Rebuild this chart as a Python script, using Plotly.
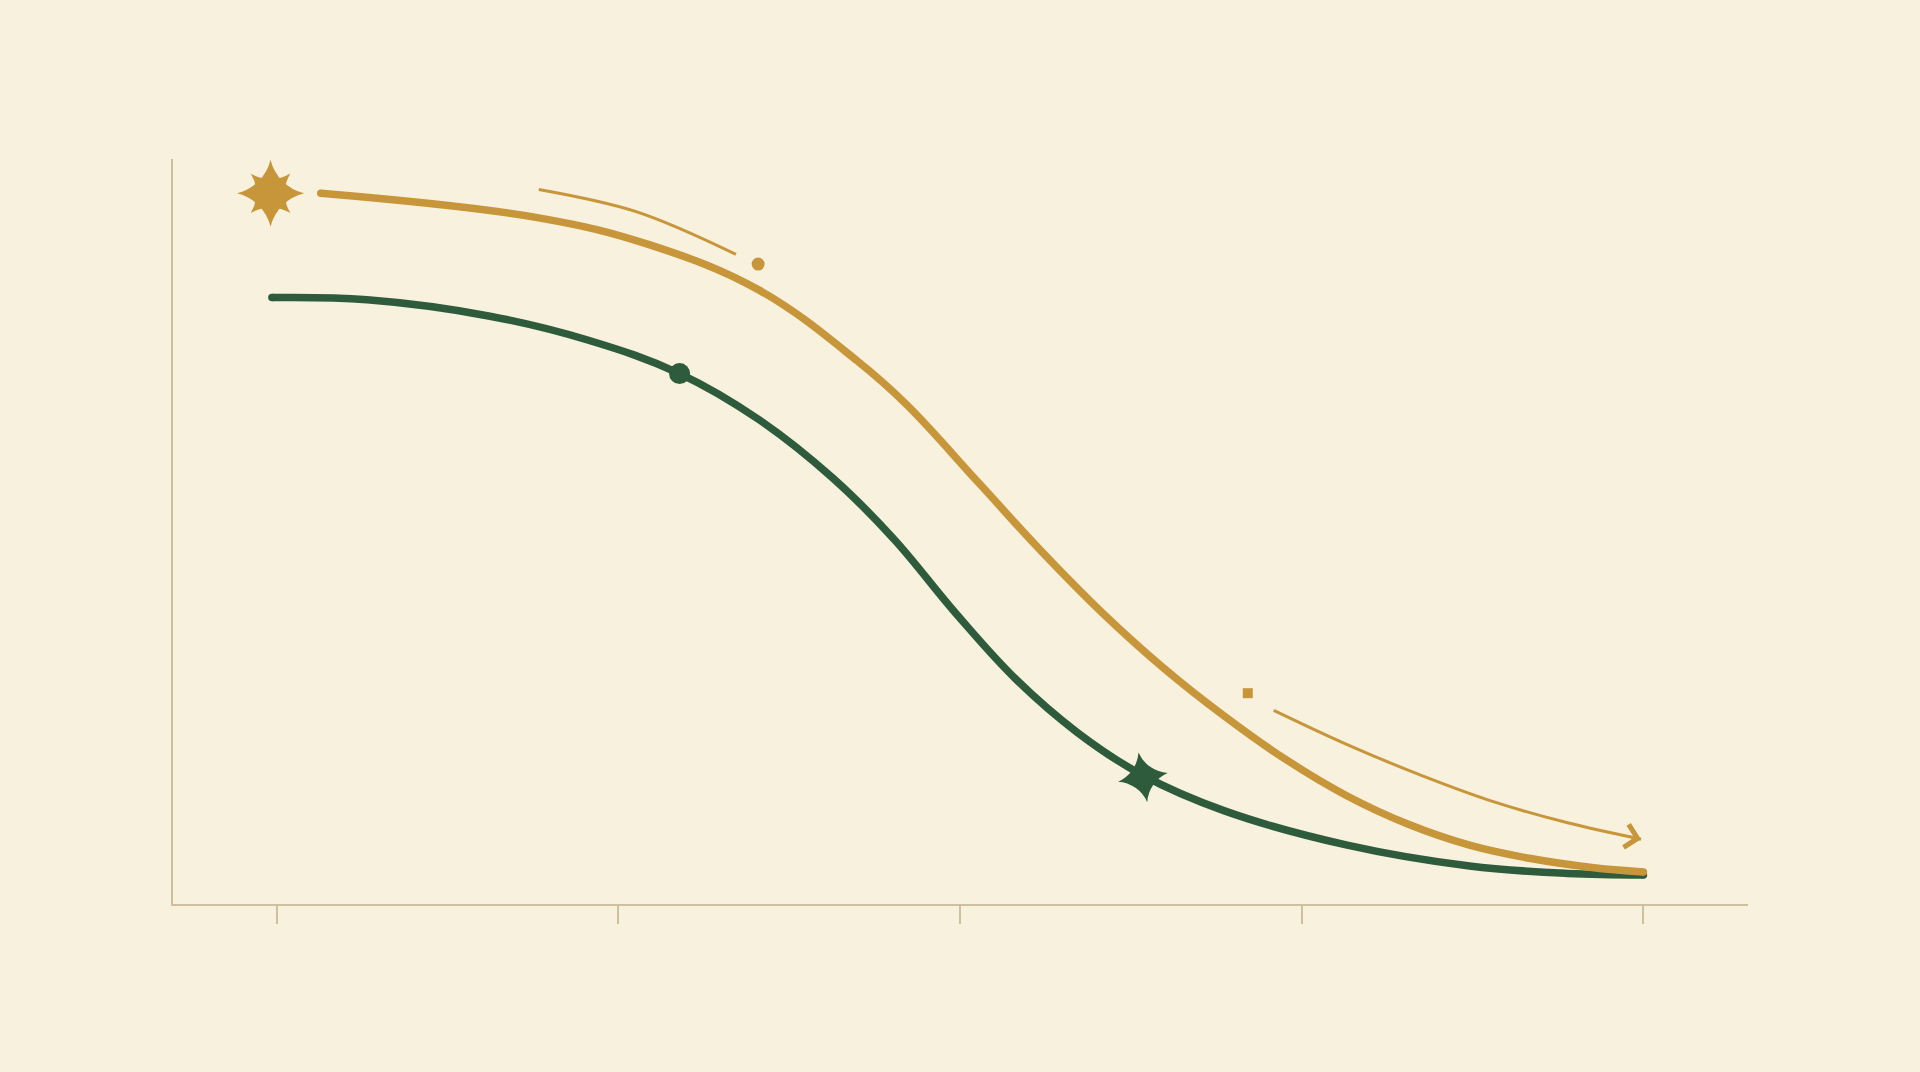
import plotly.graph_objects as go

# ---- data ----
tick_vals = [0, 1, 2, 3, 4]

gold_x = [0.129, 0.767, 1.090, 1.412, 1.699, 1.842, 2.057, 2.237, 2.416, 2.595, 2.774, 2.953, 3.133, 3.312, 3.491, 3.670, 3.849, 4.0]
gold_y = [95.4, 92.1, 88.5, 82.4, 72.9, 67.1, 56.4, 47.4, 39.1, 31.7, 25.2, 19.4, 14.5, 10.7, 7.9, 6.1, 4.9, 4.3]

green_x = [-0.014, 0.265, 0.624, 0.910, 1.179, 1.412, 1.627, 1.806, 1.986, 2.165, 2.344, 2.530, 2.774, 3.133, 3.491, 3.778, 4.0]
green_y = [81.4, 81.1, 78.9, 75.7, 71.2, 65.0, 57.2, 49.0, 39.1, 30.1, 23.0, 17.4, 12.5, 7.9, 5.1, 4.1, 3.9]

arc_x = [0.767, 1.054, 1.344]
arc_y = [95.9, 92.9, 87.2]

arrow_x = [2.918, 3.133, 3.348, 3.563, 3.778, 3.993]
arrow_y = [26.0, 21.4, 17.3, 13.7, 10.9, 8.7]

dot_x = [1.409, 2.842]
dot_y = [85.9, 28.3]

star_x = [-0.018]
star_y = [95.4]

bead_x = [1.179]
bead_y = [71.2]
knot_x = [2.535]
knot_y = [17.0]

GOLD = "#C8963A"
GREEN = "#2E5B3B"
AXIS = "#CDBFA0"
BG = "#F8F1DD"
LW = 7.5


def end_caps(n, size):
    return [size] + [0] * (n - 2) + [size]


fig = go.Figure()

fig.add_trace(go.Scatter(x=green_x, y=green_y, mode="lines+markers",
                         line=dict(color=GREEN, width=LW, shape="spline", smoothing=1.1),
                         marker=dict(size=end_caps(len(green_x), LW), color=GREEN, opacity=1, line=dict(width=0)),
                         hoverinfo="skip"))
fig.add_trace(go.Scatter(x=bead_x, y=bead_y, mode="markers",
                         marker=dict(symbol="circle", size=21, color=GREEN, opacity=1, line=dict(width=0)),
                         hoverinfo="skip"))
fig.add_trace(go.Scatter(x=knot_x, y=knot_y, mode="markers",
                         marker=dict(symbol="star-diamond", size=36, color=GREEN, angle=-10, opacity=1, line=dict(width=0)),
                         hoverinfo="skip"))

fig.add_trace(go.Scatter(x=gold_x, y=gold_y, mode="lines+markers",
                         line=dict(color=GOLD, width=LW, shape="spline", smoothing=1.1),
                         marker=dict(size=end_caps(len(gold_x), LW), color=GOLD, opacity=1, line=dict(width=0)),
                         hoverinfo="skip"))
fig.add_trace(go.Scatter(x=arc_x, y=arc_y, mode="lines",
                         line=dict(color=GOLD, width=3, shape="spline"),
                         hoverinfo="skip"))
fig.add_trace(go.Scatter(x=arrow_x, y=arrow_y, mode="lines",
                         line=dict(color=GOLD, width=3, shape="spline"),
                         hoverinfo="skip"))
fig.add_annotation(x=arrow_x[-1], y=arrow_y[-1], ax=arrow_x[-2] + 0.8 * (arrow_x[-1] - arrow_x[-2]),
                   ay=arrow_y[-2] + 0.8 * (arrow_y[-1] - arrow_y[-2]),
                   xref="x", yref="y", axref="x", ayref="y", text="",
                   showarrow=True, arrowhead=4, arrowsize=1.8, arrowwidth=2.5, arrowcolor=GOLD)

fig.add_trace(go.Scatter(x=dot_x, y=dot_y, mode="markers",
                         marker=dict(symbol=["circle", "square"], size=[13, 10], color=GOLD, opacity=1, line=dict(width=0)),
                         hoverinfo="skip"))

# eight-pointed star: long N/S/E/W points, shorter diagonal points, solid centre
for sym, size, ang in [("star-diamond", 40, 45), ("star-diamond", 48, 0), ("circle", 16, 0)]:
    fig.add_trace(go.Scatter(x=star_x, y=star_y, mode="markers",
                             marker=dict(symbol=sym, size=size, angle=ang, color=GOLD, opacity=1, line=dict(width=0)),
                             hoverinfo="skip"))

fig.update_layout(
    width=1920, height=1072,
    margin=dict(l=173, r=172, t=159, b=168),
    paper_bgcolor=BG, plot_bgcolor=BG,
    showlegend=False,
    xaxis=dict(range=[-0.3035, 4.306], showgrid=False, zeroline=False,
               showline=True, linecolor=AXIS, linewidth=2,
               tickmode="array", tickvals=tick_vals, ticktext=["" for _ in tick_vals],
               ticks="outside", ticklen=18, tickwidth=2, tickcolor=AXIS),
    yaxis=dict(range=[0, 100], showgrid=False, zeroline=False,
               showline=True, linecolor=AXIS, linewidth=2,
               showticklabels=False, ticks=""),
)

fig.write_html("out.html", config={"displayModeBar": False},
               post_script="document.body.style.margin='0';document.body.style.background='" + BG + "';")
